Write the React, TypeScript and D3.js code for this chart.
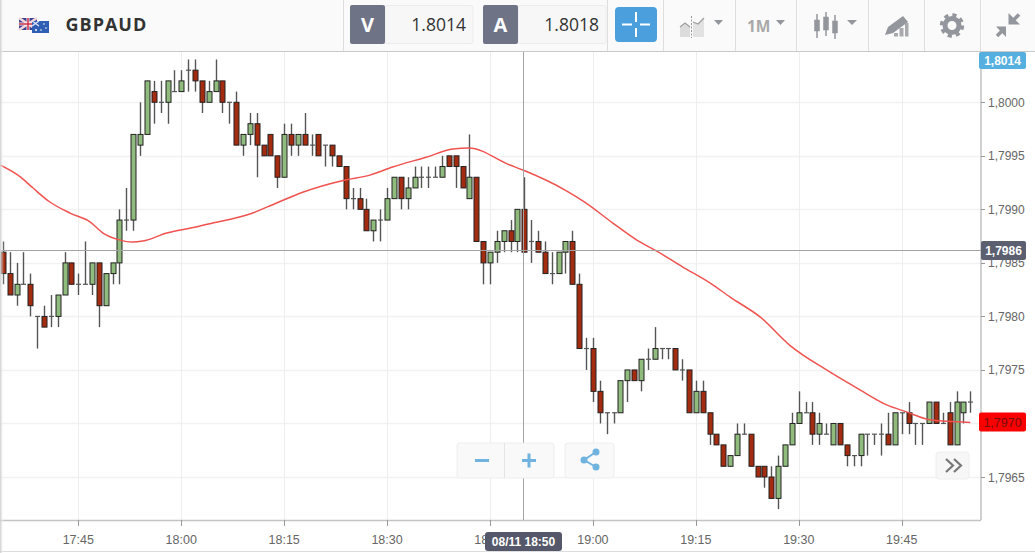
import React from 'react';
import * as d3 from 'd3';

const WIDTH = 1035;
const HEIGHT = 553;

// prices are written as pips above 1.7900, so 86 means 1.7986
const firstCandle = Date.UTC(2018, 7, 11, 17, 34);
const candleOpen = [
  86, 84, 82, 83, 83, 80, 80, 80, 80, 82,
  85, 83, 83, 83, 85, 81, 84, 85, 89, 89,
  96, 97, 101, 100, 100, 101, 101, 103, 103, 102,
  100, 101, 102, 100, 100, 96, 97, 98, 96, 97,
  95, 93, 97, 96, 97, 96, 97, 96, 96, 95,
  94, 91, 91, 90, 88, 89, 89, 91, 93, 91,
  92, 93, 93, 93, 93, 95, 95, 94, 91, 93,
  87, 85, 86, 87, 88, 87, 90, 87, 87, 86,
  84, 84, 86, 87, 83, 77, 77, 73, 71, 71,
  71, 74, 75, 74, 76, 76, 77, 77, 77, 75,
  75, 71, 73, 71, 69, 68, 66, 67, 69, 69,
  66, 66, 65, 63, 66, 68, 70, 71, 71, 69,
  69, 68, 70, 68, 67, 67, 69, 69, 69, 69,
  68, 71, 71, 70, 70, 70, 72, 70, 71, 68, 71, 72,
];
const candleHigh = [
  87, 86, 85, 86, 84, 80, 81, 82, 82, 86,
  85, 84, 87, 85, 85, 84, 85, 90, 92, 97,
  100, 102, 102, 102, 102, 103, 103, 104, 104, 102,
  102, 104, 102, 100, 101, 97, 99, 99, 96, 97,
  95, 98, 98, 97, 99, 97, 97, 96, 96, 95,
  94, 92, 92, 91, 89, 90, 92, 93, 93, 93,
  94, 94, 94, 94, 95, 95, 95, 94, 97, 93,
  87, 86, 88, 88, 89, 90, 93, 89, 88, 87,
  86, 86, 87, 88, 84, 78, 78, 74, 71, 71,
  74, 75, 75, 76, 77, 79, 77, 77, 77, 76,
  75, 74, 74, 71, 69, 68, 67, 70, 70, 69,
  66, 66, 66, 67, 68, 71, 73, 72, 72, 71,
  70, 70, 70, 68, 67, 69, 69, 69, 70, 71,
  71, 71, 72, 70, 70, 72, 72, 71, 72, 73, 72, 73,
];
const candleLow = [
  83, 82, 81, 83, 80, 77, 79, 79, 79, 82,
  83, 82, 83, 82, 79, 81, 83, 83, 88, 88,
  95, 97, 98, 99, 98, 101, 101, 101, 101, 99,
  100, 101, 99, 98, 96, 95, 96, 93, 95, 95,
  92, 93, 95, 95, 96, 95, 95, 94, 94, 94,
  90, 90, 90, 88, 87, 87, 89, 91, 90, 90,
  92, 92, 92, 93, 93, 94, 92, 92, 91, 87,
  83, 83, 85, 86, 86, 86, 86, 85, 86, 84,
  83, 84, 84, 83, 77, 75, 72, 70, 69, 70,
  71, 72, 74, 73, 75, 76, 76, 76, 75, 74,
  71, 71, 71, 68, 68, 66, 66, 67, 69, 66,
  65, 64, 63, 62, 66, 68, 70, 71, 68, 68,
  69, 68, 68, 66, 66, 66, 67, 68, 67, 68,
  68, 69, 69, 68, 68, 70, 70, 70, 68, 68, 70, 71,
];
const candleClose = [
  84, 82, 83, 83, 81, 80, 79, 80, 82, 85,
  83, 83, 83, 85, 81, 84, 85, 89, 89, 97,
  97, 102, 100, 100, 102, 101, 102, 103, 102, 100,
  101, 102, 100, 100, 96, 97, 98, 96, 95, 95,
  93, 97, 96, 97, 96, 96, 95, 96, 95, 94,
  91, 91, 90, 88, 89, 89, 91, 93, 91, 92,
  93, 93, 93, 93, 94, 94, 94, 92, 93, 87,
  85, 86, 87, 88, 87, 90, 86, 87, 86, 84,
  84, 86, 87, 83, 77, 77, 73, 71, 71, 71,
  74, 75, 74, 76, 76, 77, 77, 77, 75, 75,
  71, 73, 71, 69, 68, 66, 67, 69, 69, 66,
  65, 65, 63, 66, 68, 70, 71, 71, 69, 70,
  69, 70, 68, 67, 67, 69, 69, 69, 69, 68,
  71, 71, 70, 70, 70, 72, 70, 70, 68, 72, 72, 72,
];

// moving average: minutes after 17:45 and pips
const maMinutes = [-11.4, -8.5, -6.6, -4.2, -1.2, 1.7, 3.6, 5.6, 7.9, 9.4, 12.9, 17.3, 19.6, 25, 28.9, 32.7, 38.6, 42.5, 45.8, 50.8, 54.6, 56.9, 62.9, 64.8, 71.2, 73.8, 77.9, 81.4, 84.3, 88.1, 92.1, 95, 99.4, 103.7, 109.1, 113.5, 117.9, 120.8, 123.7, 126.6, 130];
const maValues = [94.14, 93.05, 91.99, 90.71, 89.65, 88.84, 87.79, 87.22, 86.94, 87.04, 87.79, 88.37, 88.72, 89.56, 90.6, 91.6, 92.7, 93.2, 93.95, 94.89, 95.64, 95.73, 94.14, 93.67, 91.71, 90.68, 88.72, 87.13, 86.1, 84.61, 83.11, 81.8, 79.93, 77.3, 74.98, 73.3, 71.71, 71.06, 70.4, 70.2, 70.1];

const priceTicks = [65, 70, 75, 80, 85, 90, 95, 100];
const bidPrice = 114; // above the plot, so its tag stays pinned to the top
const crosshairPrice = 86.15;
const crosshairTime = Date.UTC(2018, 7, 11, 18, 50);
const lastPrice = 70;

const x = d3.scaleUtc()
  .domain([Date.UTC(2018, 7, 11, 17, 45), Date.UTC(2018, 7, 11, 19, 45)])
  .range([78.3, 901.7]);
const y = d3.scaleLinear().domain([65, 100]).range([477, 102.3]);
const timeTicks = d3.utcMinute.every(15)!.range(new Date(Date.UTC(2018, 7, 11, 17, 45)), new Date(Date.UTC(2018, 7, 11, 19, 46)));
const timeFormat = d3.utcFormat('%H:%M');
const priceLabel = (p: number) => d3.format('.4f')(1.79 + p / 10000).replace('.', ',');

const maLine = d3.line<number>()
  .x((m) => x(Date.UTC(2018, 7, 11, 17, 45) + m * 60000))
  .y((_, i) => y(maValues[i]))
  .curve(d3.curveMonotoneX);

const PLOT_TOP = 52;
const PLOT_BOTTOM = 520;
const PLOT_RIGHT = 981;
const LABEL_FONT = '"Liberation Sans", Arial, sans-serif';
const UI_FONT = '"Open Sans", "Noto Sans", sans-serif';
const ICON = '#93969c';

const Candles = () => (
  <g>
    {candleOpen.map((open, i) => {
      const cx = Math.round(x(firstCandle + i * 60000)) + 0.5;
      const close = candleClose[i];
      const top = y(Math.max(open, close));
      const bottom = y(Math.min(open, close));
      return (
        <g key={i}>
          <line x1={cx} x2={cx} y1={y(candleHigh[i])} y2={y(candleLow[i])} stroke="#555" strokeWidth={1.4} />
          {open === close ? (
            <line x1={cx - 2.5} x2={cx + 2.5} y1={top} y2={top} stroke="#555" strokeWidth={1.2} />
          ) : (
            <rect
              x={cx - 2.5}
              y={top}
              width={5}
              height={bottom - top}
              fill={close > open ? '#8fbb7c' : '#a32b0f'}
              stroke="#222"
              strokeWidth={1}
            />
          )}
        </g>
      );
    })}
  </g>
);

const Toolbar = () => (
  <g>
    <rect x={0} y={0} width={WIDTH} height={51} fill="#fafafa" />
    <line x1={0} x2={WIDTH} y1={51.5} y2={51.5} stroke="#c9c9c9" />
    {[343.5, 607.5, 663.5, 735.5, 796.5, 868.5, 924.5, 980.5].map((sx) => (
      <line key={sx} x1={sx} x2={sx} y1={0} y2={51} stroke="#dedede" />
    ))}

    {/* flags */}
    <rect x={19} y={18} width={18} height={12} fill="#3f3f8f" />
    <path d="M19 18L37 30M37 18L19 30" stroke="#f3d8dc" strokeWidth={2.5} />
    <path d="M28 18V30M19 24H37" stroke="#f4f0f0" strokeWidth={3} />
    <path d="M28 18V30M19 24H37" stroke="#d0304a" strokeWidth={1.5} />
    <rect x={32} y={21} width={17} height={12} fill="#2f5fb5" />
    <path d="M32 21L39 26M39 21L32 26" stroke="#e8e8f5" strokeWidth={1.2} />
    <circle cx={44} cy={24} r={0.8} fill="#fff" />
    <circle cx={46} cy={28} r={0.8} fill="#fff" />
    <circle cx={41} cy={30} r={0.8} fill="#fff" />
    <circle cx={36} cy={30} r={1} fill="#fff" />

    <text x={65.5} y={31} fontFamily={UI_FONT} fontWeight={700} fontSize={18} letterSpacing={1} fill="#333">GBPAUD</text>

    {/* quote boxes */}
    <rect x={385} y={5.5} width={88} height={38} rx={2} fill="#f7f7f7" stroke="#ececec" />
    <rect x={350} y={5} width={35} height={39} rx={2} fill="#6f7386" />
    <text x={367.5} y={32} textAnchor="middle" fontFamily={UI_FONT} fontWeight={700} fontSize={20} fill="#fff">V</text>
    <text x={466} y={31} textAnchor="end" fontFamily={UI_FONT} fontSize={17.5} fill="#333">1.8014</text>
    <rect x={518} y={5.5} width={88} height={38} rx={2} fill="#f7f7f7" stroke="#ececec" />
    <rect x={483} y={5} width={35} height={39} rx={2} fill="#6f7386" />
    <text x={500.5} y={32} textAnchor="middle" fontFamily={UI_FONT} fontWeight={700} fontSize={20} fill="#fff">A</text>
    <text x={599} y={31} textAnchor="end" fontFamily={UI_FONT} fontSize={17.5} fill="#333">1.8018</text>

    {/* crosshair button */}
    <rect x={615} y={7} width={42} height={35} rx={4} fill="#4a9fdc" />
    <path d="M622 24.5H632M640 24.5H650M636 12V22M636 28V37" stroke="#fff" strokeWidth={2} />

    {/* chart type */}
    <path d="M680 37V27L685 23L690 27V37Z" fill="#dcdcdc" />
    <path d="M693 37V22L698 24L704 18V37Z" fill="#e2e2e2" />
    <path d="M680 27L685 23L690 27M693 22L698 24L704 18" fill="none" stroke="#a0a0a0" strokeWidth={1.3} />
    <line x1={691.5} x2={691.5} y1={16} y2={38} stroke="#999" strokeDasharray="2 1.5" />
    <path d="M714 20H723L718.5 25Z" fill={ICON} />

    <text x={747} y={32} fontFamily={UI_FONT} fontWeight={700} fontSize={15.5} fill="#a9a9a9">1M</text>
    <path d="M776 20H785L780.5 25Z" fill={ICON} />

    {/* candle type */}
    {[817, 826, 835].map((cx, i) => (
      <g key={cx} fill={ICON} stroke={ICON}>
        <line x1={cx} x2={cx} y1={[14, 12, 15][i]} y2={[38, 36, 39][i]} strokeWidth={1.5} />
        <rect x={cx - 2.5} y={[20, 17, 21][i]} width={5} height={[11, 13, 12][i]} strokeWidth={0.5} />
      </g>
    ))}
    <path d="M847 20H857L852 25Z" fill={ICON} />

    {/* drawing tool */}
    <path d="M885 35L888 27L903 16L908 22L893 33Z" fill={ICON} />
    <path d="M894 36.5H898V33H894ZM899.5 36.5H903.5V28H899.5ZM905 36.5H908.5V23H905Z" fill="#a8aaae" />

    {/* gear */}
    <circle cx={952} cy={25.5} r={7} fill="none" stroke={ICON} strokeWidth={5} />
    <circle cx={952} cy={25.5} r={10.5} fill="none" stroke={ICON} strokeWidth={3.4} strokeDasharray="4.2 4.05" />

    {/* collapse */}
    <path d="M1019 14.5L1012 21.5" stroke={ICON} strokeWidth={3.5} />
    <path d="M1008.5 13V24.5H1020Z" fill={ICON} />
    <path d="M997 36L1003 30" stroke={ICON} strokeWidth={3.5} />
    <path d="M996 26.5H1006V37Z" fill={ICON} />
  </g>
);

const Controls = () => (
  <g>
    <rect x={457} y={443} width={97} height={35} rx={3} fill="#f9f9f9" stroke="#eee" />
    <line x1={504.5} x2={504.5} y1={443} y2={478} stroke="#e4e4e4" />
    <path d="M475 460.5H489" stroke="#6fb3de" strokeWidth={3} />
    <path d="M522 460.5H536M529 453.5V467.5" stroke="#6fb3de" strokeWidth={3} />
    <rect x={565} y={443} width={49} height={35} rx={3} fill="#f9f9f9" stroke="#eee" />
    <path d="M596 452L584 460L596 467" fill="none" stroke="#6fb3de" strokeWidth={2} />
    <circle cx={596} cy={452} r={3.5} fill="#6fb3de" />
    <circle cx={584} cy={460} r={3.5} fill="#6fb3de" />
    <circle cx={596} cy={467} r={3.5} fill="#6fb3de" />
    <rect x={936} y={452} width={33} height={27} rx={3} fill="#f7f7f7" stroke="#eee" />
    <path d="M946 459L953 465.5L946 472M954 459L961 465.5L954 472" fill="none" stroke="#777" strokeWidth={2.2} />
  </g>
);

export default function App() {
  const crossX = Math.round(x(crosshairTime)) - 0.5;
  const crossY = Math.round(y(crosshairPrice)) - 0.5;
  return (
    <svg width={WIDTH} height={HEIGHT} style={{ position: 'absolute', left: 0, top: 0, background: '#fff' }}>
      <defs>
        <linearGradient id="edge" x1="0" x2="1" y1="0" y2="0">
          <stop offset="0" stopColor="#ccc" />
          <stop offset="1" stopColor="#fff" stopOpacity={0} />
        </linearGradient>
      </defs>

      {/* grid */}
      {priceTicks.map((p) => (
        <line key={p} x1={0} x2={PLOT_RIGHT} y1={Math.round(y(p)) + 0.5} y2={Math.round(y(p)) + 0.5} stroke="#f2f2f2" strokeWidth={1.5} />
      ))}
      {timeTicks.map((t) => (
        <line key={+t} x1={Math.round(x(t)) + 0.5} x2={Math.round(x(t)) + 0.5} y1={PLOT_TOP} y2={PLOT_BOTTOM} stroke="#eee" />
      ))}

      <Candles />
      <path d={maLine(maMinutes) ?? ''} fill="none" stroke="#ef5350" strokeWidth={1.5} />

      {/* axes */}
      <line x1={0} x2={PLOT_RIGHT} y1={PLOT_BOTTOM + 0.5} y2={PLOT_BOTTOM + 0.5} stroke="#c4c4c4" strokeWidth={1.4} />
      <line x1={PLOT_RIGHT} x2={PLOT_RIGHT} y1={PLOT_TOP} y2={PLOT_BOTTOM} stroke="#bdbdbd" strokeWidth={1.4} />
      {priceTicks.map((p) => (
        <g key={p}>
          <line x1={PLOT_RIGHT} x2={PLOT_RIGHT + 4} y1={Math.round(y(p)) + 0.5} y2={Math.round(y(p)) + 0.5} stroke="#999" />
          {/* the red tag carries this price instead of the tick label */}
          {p !== lastPrice && (
            <text x={988} y={y(p) + 4.5} fontFamily={LABEL_FONT} fontSize={12} fill="#666">{priceLabel(p)}</text>
          )}
        </g>
      ))}
      {timeTicks.map((t) => (
        <g key={+t}>
          <line x1={Math.round(x(t)) + 0.5} x2={Math.round(x(t)) + 0.5} y1={PLOT_BOTTOM} y2={PLOT_BOTTOM + 6} stroke="#999" />
          <text x={x(t)} y={544} textAnchor="middle" fontFamily={LABEL_FONT} fontSize={12.5} fill="#666">{timeFormat(t)}</text>
        </g>
      ))}
      <line x1={0} x2={WIDTH} y1={551.5} y2={551.5} stroke="#ddd" />

      {/* crosshair */}
      <line x1={0} x2={PLOT_RIGHT} y1={crossY} y2={crossY} stroke="#a3a3a3" />
      <line x1={crossX} x2={crossX} y1={PLOT_TOP} y2={PLOT_BOTTOM} stroke="#a3a3a3" />

      <Controls />

      {/* price tags */}
      <rect x={979} y={52} width={47} height={17} rx={2} fill="#55b0e0" />
      <text x={1002.5} y={65} textAnchor="middle" fontFamily={LABEL_FONT} fontWeight={700} fontSize={12} fill="#fff">{priceLabel(bidPrice)}</text>
      <rect x={981} y={crossY - 9.5} width={45} height={19} rx={2} fill="#5b5f70" />
      <text x={1003.5} y={crossY + 4.5} textAnchor="middle" fontFamily={LABEL_FONT} fontWeight={700} fontSize={12} fill="#fff">{priceLabel(crosshairPrice)}</text>
      <rect x={979} y={y(lastPrice) - 11} width={47} height={19} rx={2} fill="#fb0000" />
      <text x={1002.5} y={y(lastPrice) + 3.5} textAnchor="middle" fontFamily={LABEL_FONT} fontSize={12.5} fill="#7a0a0a">{priceLabel(lastPrice)}</text>

      <rect x={485} y={532} width={77} height={19} rx={3} fill="#55586a" />
      <text x={523.5} y={546} textAnchor="middle" fontFamily={LABEL_FONT} fontWeight={700} fontSize={12} fill="#fff">08/11 18:50</text>

      <Toolbar />
      <rect x={0} y={0} width={4} height={HEIGHT} fill="url(#edge)" />
    </svg>
  );
}
